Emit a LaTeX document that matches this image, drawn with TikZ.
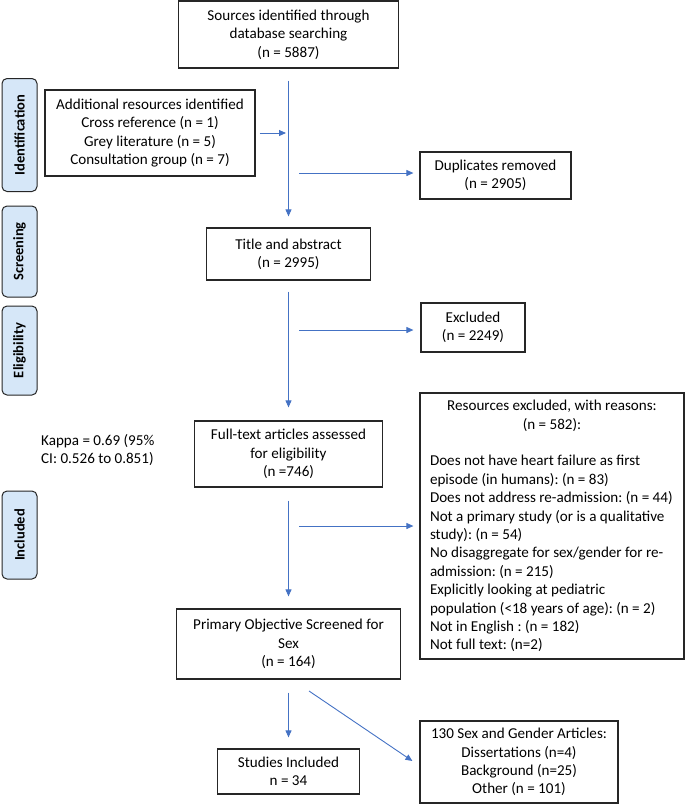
\documentclass[tikz,border=0pt]{standalone}
\usepackage{fontspec}
\setmainfont{Carlito}
\usetikzlibrary{arrows.meta}
\definecolor{arrowblue}{HTML}{4472C4}
\definecolor{sidefill}{HTML}{D6E7F8}
\definecolor{boxline}{HTML}{262626}
\begin{document}
\begin{tikzpicture}[x=1pt,y=-1pt,
  box/.style={draw=boxline, line width=1.2pt, inner sep=0pt, align=center,
    font=\fontsize{15.1}{18.4}\selectfont\frenchspacing},
  txt/.style={inner sep=0pt, font=\fontsize{15.1}{18.4}\selectfont\frenchspacing},
  side/.style={draw=boxline, line width=1pt, fill=sidefill, rounded corners=5pt,
    rotate=90, inner sep=0pt, minimum height=35,
    font=\fontsize{14.5}{16}\selectfont\bfseries},
  flow/.style={draw=arrowblue, line width=0.9pt, -{Triangle[length=7pt,width=6pt]}}]
\useasboundingbox (0,0) rectangle (685,804);

% side labels
\node[side, minimum width=113] (ident) at (19.5,135) {Identification};
\node[side, minimum width=91] (screen) at (19.5,251.5) {Screening};
\node[side, minimum width=89] (elig) at (19.5,350.5) {Eligibility};
\node[side, minimum width=88] (incl) at (19.5,535) {Included};

% boxes
\node[box, minimum width=220, minimum height=67] (src) at (288.5,34.5)
  {Sources identified through\\database searching\\(n = 5887)};
\node[box, minimum width=210, minimum height=86] (add) at (150,133)
  {Additional resources identified\\Cross reference (n = 1)\\Grey literature (n = 5)\\Consultation group (n = 7)};
\node[box, minimum width=151, minimum height=47] (dup) at (495.5,175.5)
  {Duplicates removed\\(n = 2905)};
\node[box, minimum width=164, minimum height=52] (title) at (288.5,254)
  {Title and abstract\\(n = 2995)};
\node[box, minimum width=104, minimum height=49] (excl) at (473,327.5)
  {Excluded\\(n = 2249)};
\node[box, minimum width=188, minimum height=66] (full) at (288.5,454)
  {Full-text articles assessed\\for eligibility\\(n =746)};
\node[txt, anchor=west, align=left] (kappa) at (41,450)
  {Kappa = 0.69 (95\%\\CI: 0.526 to 0.851)};
\node[box, align=left, minimum width=264, minimum height=266] (res) at (552,526)
  {\makebox[244pt]{Resources excluded, with reasons:}\\
   \makebox[244pt]{(n = 582):}\\[18.4pt]
   Does not have heart failure as first\\
   episode (in humans): (n = 83)\\
   Does not address re-admission: (n = 44)\\
   Not a primary study (or is a qualitative\\
   study): (n = 54)\\
   No disaggregate for sex/gender for re-\\
   admission: (n = 215)\\
   Explicitly looking at pediatric\\
   population (<18 years of age): (n = 2)\\
   Not in English : (n = 182)\\
   Not full text: (n=2)};
\node[box, minimum width=224, minimum height=70] (prim) at (288.5,644)
  {Primary Objective Screened for\\Sex\\(n = 164)};
\node[box, minimum width=142, minimum height=45] (stud) at (288.5,771.5)
  {Studies Included\\n = 34};
\node[box, minimum width=198, minimum height=82] (sexg) at (519,762)
  {130 Sex and Gender Articles:\\Dissertations (n=4)\\Background (n=25)\\Other (n = 101)};

% connectors
\coordinate (j1) at (286,133);
\coordinate (d1) at (299,173);
\coordinate (e1) at (299,330);
\coordinate (r1) at (299,526);
\coordinate (g1) at (309,691);
\draw[flow, shorten <=12pt, shorten >=11pt] (src.south) -- (title.north);
\draw[flow, shorten <=4pt] (add.east) -- (j1);
\draw[flow, shorten >=6pt] (d1) -- (d1 -| dup.west);
\draw[flow, shorten <=11pt, shorten >=13pt] (title.south) -- (full.north);
\draw[flow, shorten >=7pt] (e1) -- (e1 -| excl.west);
\draw[flow, shorten <=13pt, shorten >=12pt] (full.south) -- (prim.north);
\draw[flow, shorten >=6pt] (r1) -- (r1 -| res.west);
\draw[flow, shorten <=13pt, shorten >=11pt] (prim.south) -- (stud.north);
\draw[flow] (g1) -- ([xshift=-7pt,yshift=1pt]sexg.west);
\end{tikzpicture}
\end{document}
